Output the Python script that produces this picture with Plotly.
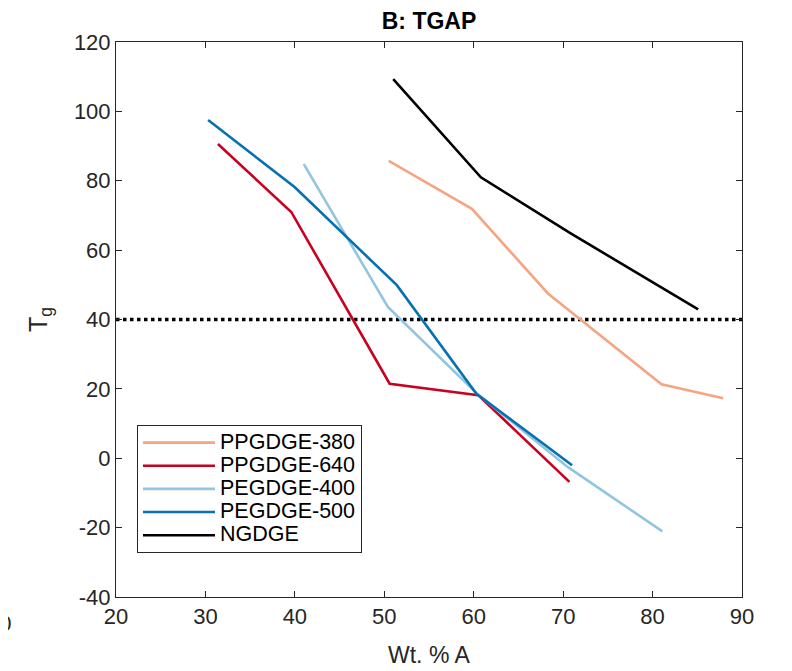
import plotly.graph_objects as go

names = ["PPGDGE-380", "PPGDGE-640", "PEGDGE-400", "PEGDGE-500", "NGDGE"]
colors = ["#f4a582", "#ca0020", "#92c5de", "#0571b0", "#000000"]

x_ppg380 = [50.5, 59.8, 68.3, 81.0, 87.9]
y_ppg380 = [85.7, 71.9, 47.5, 21.3, 17.3]

x_ppg640 = [31.4, 39.6, 50.6, 60.5, 70.7]
y_ppg640 = [90.6, 71.0, 21.5, 18.2, -6.8]

x_peg400 = [41.0, 50.4, 60.3, 70.5, 81.1]
y_peg400 = [84.8, 43.6, 18.8, -2.5, -21.1]

x_peg500 = [30.3, 40.0, 51.4, 60.3, 71.0]
y_peg500 = [97.5, 78.1, 49.9, 18.6, -2.0]

x_ngdge = [51.0, 60.8, 70.8, 85.1]
y_ngdge = [109.3, 81.0, 64.9, 42.9]

xs = [x_ppg380, x_ppg640, x_peg400, x_peg500, x_ngdge]
ys = [y_ppg380, y_ppg640, y_peg400, y_peg500, y_ngdge]

ref_level = 40
x_range = [20, 90]
y_range = [-40, 120]
x_ticks = [20, 30, 40, 50, 60, 70, 80, 90]
y_ticks = [-40, -20, 0, 20, 40, 60, 80, 100, 120]
y_ticktext = ["-40", "-20", "0", "20", "40", "60", "80", "100", "120"]

# page body has an 8px margin: work in page coords, then subtract offset
OFF = 8
W, H = 792 - OFF, 671 - OFF
L, T = 116 - OFF, 42 - OFF
pw, ph = 626, 555
R, B = W - L - pw, H - T - ph

def px_x(p):  # page pixel x -> paper x
    return (p - OFF - L) / pw

def px_y(p):  # page pixel y -> paper y
    return (T + ph - (p - OFF)) / ph

fig = go.Figure()
fig.add_trace(go.Scatter(x=x_range, y=[ref_level, ref_level], mode="lines",
                         line=dict(color="black", width=3.5, dash="dot"),
                         showlegend=False, hoverinfo="skip"))
for n, c, x, y in zip(names, colors, xs, ys):
    fig.add_trace(go.Scatter(x=x, y=y, mode="lines",
                             name="<span style='font-size:21.5px'>%s</span>" % n,
                             line=dict(color=c, width=2.6)))

axcol = "#262626"
font_fam = "Liberation Sans, Arial, sans-serif"
fig.update_layout(
    width=W, height=H,
    margin=dict(l=L, r=R, t=T, b=B, autoexpand=False),
    paper_bgcolor="white", plot_bgcolor="white",
    font=dict(family=font_fam, color=axcol, size=20),
    title=dict(text="<b>B: TGAP</b>", x=(L + pw / 2) / W, xanchor="center",
               y=1 - (21 - OFF) / H, yanchor="middle", font=dict(size=23, color="black")),
    xaxis=dict(range=x_range, tickvals=x_ticks, showgrid=False, zeroline=False,
               showline=True, linecolor=axcol, linewidth=1, mirror="ticks",
               ticks="inside", ticklen=6, tickcolor=axcol, automargin=False,
               tickfont=dict(size=22)),
    yaxis=dict(range=y_range, tickvals=y_ticks, ticktext=y_ticktext,
               showgrid=False, zeroline=False,
               showline=True, linecolor=axcol, linewidth=1, mirror="ticks",
               ticks="inside", ticklen=6, tickcolor=axcol, automargin=False,
               tickfont=dict(size=22)),
    legend=dict(x=px_x(137), y=px_y(489), xanchor="left", yanchor="middle",
                bgcolor="white", bordercolor=axcol, borderwidth=1,
                font=dict(size=15.5, color="black"), itemwidth=72,
                tracegroupgap=0),
    showlegend=True,
)
# axis titles
fig.add_annotation(text="Wt. % A", xref="paper", yref="paper",
                   x=0.5, y=px_y(655), xanchor="center", yanchor="middle",
                   showarrow=False, font=dict(size=23, color=axcol))
fig.add_annotation(text="T<sub>g</sub>", xref="paper", yref="paper",
                   x=px_x(40), y=px_y(320), xanchor="center", yanchor="middle",
                   textangle=-90, showarrow=False, font=dict(size=25, color=axcol))
# clipped tick label of neighbouring panel at far left
fig.add_annotation(text="10", xref="paper", yref="paper",
                   x=px_x(13), y=px_y(623), xanchor="right", yanchor="middle",
                   showarrow=False, font=dict(size=22, color=axcol))
fig.write_html("out.html")
